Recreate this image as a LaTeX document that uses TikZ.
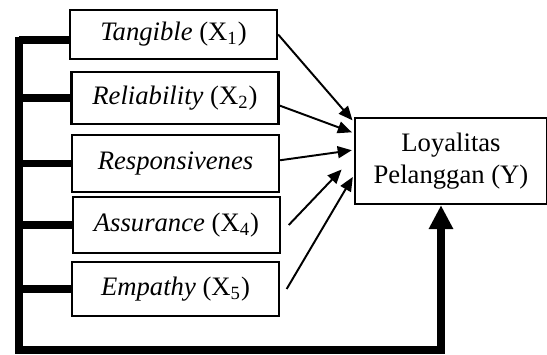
\documentclass[tikz,border=0pt,12pt]{standalone}
\usepackage{fontspec}
\setmainfont{Liberation Serif}
\usepackage{tikz}
\usetikzlibrary{arrows.meta,calc,positioning}
\tikzset{
var/.style={draw, line width=1.1pt, minimum width=95.5pt, inner sep=0pt}, % dimension boxes
link/.style={line width=0.9pt, shorten >=1pt, -{Triangle[length=6.5pt,width=5.5pt]}},
rail/.style={line width=3.4pt, line join=miter},
every node/.style={font=\fontsize{12.3}{14.5}\selectfont},
}

\begin{document}
\begin{tikzpicture}[x=0.4615pt,y=-0.4615pt]
   \useasboundingbox (0,0) rectangle (547,355);
   \node[var, minimum height=22.6pt] (x1) at (173.5,34.5) {\textit{Tangible} (X\textsubscript{1})};
   \node[var, minimum height=24pt]   (x2) at (175,98)    {\textit{Reliability} (X\textsubscript{2})};
   \node[var, minimum height=26.3pt] (x3) at (175.5,163.5) {\textit{Responsivenes}};
   \node[var, minimum height=25.8pt] (x4) at (176.5,225) {\textit{Assurance} (X\textsubscript{4})};
   \node[var, minimum height=24.9pt] (x5) at (175.5,289) {\textit{Empathy} (X\textsubscript{5})};
   \node[draw, line width=1.1pt, minimum width=88.5pt, minimum height=39.7pt, align=center]
      (y) at (451,161) {Loyalitas\\Pelanggan (Y)};
   % thin arrows
   \draw[link] (x1.east) -- ([yshift=18pt]y.west);
   \draw[link] ([yshift=-3.5pt]x2.east) -- ([yshift=12.9pt]y.west);
   \draw[link] ([yshift=1.5pt]x3.east) -- ([yshift=5.1pt]y.west);
   \draw[link] ([xshift=3.5pt]x4.east) -- ([xshift=-5pt,yshift=-3.2pt]y.west);
   \draw[link] ([xshift=3pt]x5.east) -- ([yshift=-6.5pt]y.west);
   % thick rail
   \coordinate (top) at (19,40);
   \coordinate (bot) at (19,350);
   \coordinate (up) at (441,350);
   \draw[rail] (top) -- (top -| x1.west);
   \draw[rail] (x2.west) -- (x2.west -| top);
   \draw[rail] (x3.west) -- (x3.west -| top);
   \draw[rail] (x4.west) -- (x4.west -| top);
   \draw[rail] (x5.west) -- (x5.west -| top);
   \draw[rail, -{Triangle[length=11pt,width=10.6pt]}] ([yshift=1.6pt]top) -- (bot) -- (up) -- (up |- y.south);
\end{tikzpicture}
\end{document}
